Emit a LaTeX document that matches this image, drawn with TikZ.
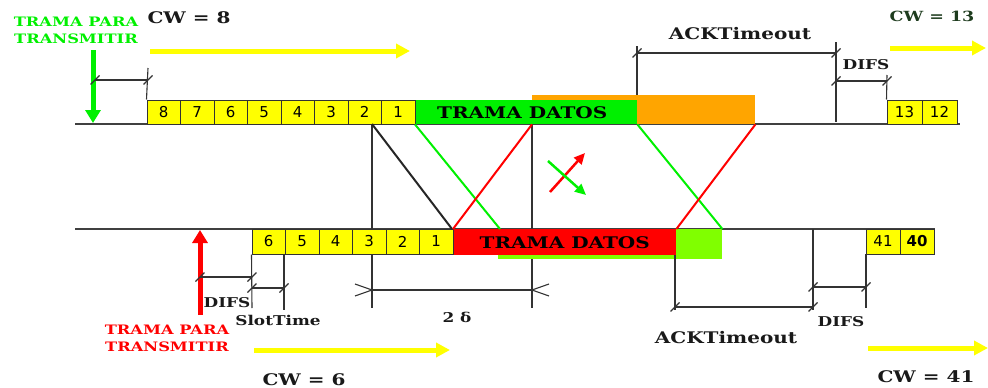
\documentclass[tikz,border=0pt]{standalone}
\usepackage{fontspec}
\setmainfont{DejaVu Serif}[FakeStretch=1.25]
\newfontfamily\digfont{DejaVu Sans}
\usetikzlibrary{arrows.meta}
\definecolor{ylw}{RGB}{255,255,0}
\definecolor{grn}{RGB}{0,240,0}
\definecolor{lgrn}{RGB}{128,255,0}
\definecolor{rd}{RGB}{255,0,0}
\definecolor{orng}{RGB}{255,165,0}
\definecolor{dkgrn}{RGB}{30,60,30}
\definecolor{txt}{RGB}{25,25,25}
\tikzset{
  tline/.style={line width=1.2pt, draw=black!75},
  slot/.style={draw=black!80, line width=1pt, fill=ylw, minimum width=33.5pt, minimum height=24pt, inner sep=0pt, font=\digfont\fontsize{15}{15}\selectfont},
  bar/.style={inner sep=0pt, anchor=north west, font=\bfseries\fontsize{16}{16}\selectfont, text=black},
  dim/.style={line width=1.1pt, draw=black!80},
  fatarrow/.style={line width=5pt, -{Triangle[width=15pt,length=13pt]}},
  yarrow/.style={line width=5pt, draw=ylw, -{Triangle[width=14pt,length=14pt]}},
  small/.style={line width=2.5pt, -{Triangle[width=10pt,length=11pt]}},
  wave/.style={line width=2pt},
  lbl/.style={font=\bfseries\fontsize{16}{16}\selectfont, text=txt},
  slbl/.style={font=\bfseries\fontsize{13.5}{13.5}\selectfont, text=txt},
  trama/.style={font=\bfseries\fontsize{13}{17}\selectfont, align=center},
}
\newcommand{\tick}[1]{\draw[dim] (#1) ++(-4.5,4.5) -- ++(9,-9);}
\begin{document}
\begin{tikzpicture}[x=1pt,y=-1pt]
\useasboundingbox (0,0) rectangle (988,388);
% timelines
\coordinate (ta) at (75,124); \coordinate (tb) at (960,124);
\coordinate (ba) at (75,229); \coordinate (bb) at (935,229);
\draw[tline] (ta) -- (tb);
\draw[tline] (ba) -- (bb);
% vertical reference lines
\coordinate (v1t) at (372,124); \coordinate (v1b) at (372,308);
\coordinate (v2t) at (532,124); \coordinate (v2b) at (532,308);
\draw[dim] (v1t) -- (v1b);
\draw[dim] (v2t) -- (v2b);
% top station
\node[bar, fill=orng, minimum width=223pt, minimum height=29pt] (ackA) at (532,95) {};
\node[bar, fill=grn, minimum width=222pt, minimum height=24pt] (dataA) at (415,100) {\hspace*{-8pt}TRAMA DATOS};
\foreach \n [count=\i] in {8,7,6,5,4,3,2,1}
  \node[slot] (a\n) at ({147+33.5*(\i-0.5)},112) {\n};
\node[slot, minimum width=35pt] (a13) at (904.5,112) {13};
\node[slot, minimum width=35pt] (a12) at (939.5,112) {12};
% bottom station
\node[bar, fill=lgrn, minimum width=224pt, minimum height=30pt] (ackB) at (498,229) {};
\node[bar, fill=rd, minimum width=223pt, minimum height=26pt] (dataB) at (453,229) {TRAMA DATOS};
\foreach \n [count=\i] in {6,5,4,3,2,1}
  \node[slot, minimum height=25pt] (b\n) at ({252+33.5*(\i-0.5)},241.5) {\n};
\node[slot, minimum width=34pt, minimum height=25pt] (b41) at (883,241.5) {41};
\node[slot, minimum width=34pt, minimum height=25pt] (b40) at (917,241.5) {\bfseries 40};
% propagation lines
\coordinate (k1) at (452,229);
\draw[wave, black!85] (v1t) -- (k1);
\draw[wave, grn] (dataA.south west) -- (500,229);
\draw[wave, rd] (dataB.north west) -- (ackA.south west);
\draw[wave, grn] (dataA.south east) -- (ackB.north east);
\draw[wave, rd] (dataB.north east) -- (ackA.south east);
% crossing arrows
\coordinate (r1) at (550,192); \coordinate (r2) at (585,153);
\coordinate (g1) at (548,161); \coordinate (g2) at (586,195);
\draw[small, rd] (r1) -- (r2);
\draw[small, grn] (g1) -- (g2);
% big arrows
\coordinate (ga1) at (93,50); \coordinate (ga2) at (93,123);
\draw[fatarrow, grn] (ga1) -- (ga2);
\coordinate (ra1) at (200,315); \coordinate (ra2) at (200,230);
\draw[fatarrow, rd] (ra1) -- (ra2);
\coordinate (y1a) at (150,51); \coordinate (y1b) at (410,51);
\draw[yarrow] (y1a) -- (y1b);
\coordinate (y2a) at (890,48); \coordinate (y2b) at (986,48);
\draw[yarrow] (y2a) -- (y2b);
\coordinate (y3a) at (254,350); \coordinate (y3b) at (450,350);
\draw[yarrow] (y3a) -- (y3b);
\coordinate (y4a) at (868,348); \coordinate (y4b) at (988,348);
\draw[yarrow] (y4a) -- (y4b);
% top dimensions
\draw[dim] (148,68) -- (a8.north west);
\draw[dim] (95,80) -- (148,80); \tick{95,80} \tick{148,80}
\draw[dim] (637,46) -- (637,95);
\draw[dim] (836,42) -- (836,122);
\draw[dim] (637,53) -- (836,53); \tick{637,53} \tick{836,53}
\draw[dim] (887,75) -- (a13.north west);
\draw[dim] (836,81) -- (887,81); \tick{836,81} \tick{887,81}
% bottom dimensions
\draw[dim] (b6.south west) -- (252,308);
\draw[dim] (284,254) -- (284,310);
\draw[dim] (200,277) -- (252,277); \tick{200,277} \tick{252,277}
\draw[dim] (252,288) -- (284,288); \tick{252,288} \tick{284,288}
\draw[dim] (372,290) -- (532,290);
\draw[dim] (355,284) -- (372,290) -- (355,296);
\draw[dim] (549,284) -- (532,290) -- (549,296);
\draw[dim] (675,255) -- (675,310);
\draw[dim] (813,229) -- (813,310);
\draw[dim] (866,254) -- (866,308);
\draw[dim] (675,307) -- (813,307); \tick{675,307} \tick{813,307}
\draw[dim] (813,287) -- (866,287); \tick{813,287} \tick{866,287}
% labels
\node[trama, text=grn] (tpA) at (76,30) {TRAMA PARA\\TRANSMITIR};
\node[lbl] (cw8) at (189,18) {CW = 8};
\node[lbl] (ackTA) at (740,34) {ACKTimeout};
\node[slbl] (difsA) at (866,65) {DIFS};
\node[slbl, font=\bfseries\fontsize{14}{14}\selectfont, text=dkgrn] (cw13) at (932,16) {CW = 13};
\node[slbl] (difsB) at (227,303) {DIFS};
\node[slbl] (slot) at (278,320) {SlotTime};
\node[trama, text=rd] (tpB) at (167,338) {TRAMA PARA\\TRANSMITIR};
\node[slbl] (dd) at (457,317) {2 δ};
\node[lbl] (cw6) at (304,380) {CW = 6};
\node[slbl] (difsC) at (841,322) {DIFS};
\node[lbl] (ackTB) at (726,338) {ACKTimeout};
\node[lbl] (cw41) at (926,377) {CW = 41};
\end{tikzpicture}
\end{document}
